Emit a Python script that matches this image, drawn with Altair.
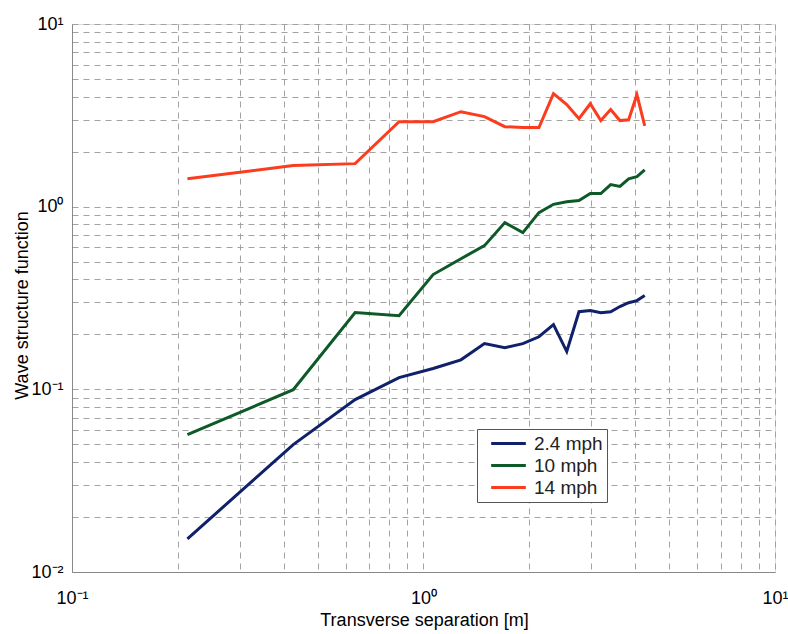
import altair as alt
import pandas as pd

# Transverse separations [m] shared by all three wind speeds
separation = [0.213, 0.426, 0.639, 0.852, 1.065, 1.278, 1.491, 1.704, 1.917, 2.130,
              2.343, 2.556, 2.769, 2.982, 3.195, 3.408, 3.621, 3.834, 4.047, 4.260]

speeds = ["2.4 mph", "10 mph", "14 mph"]

wsf_2_4 = [0.0152, 0.0498, 0.0879, 0.116, 0.130, 0.145, 0.178, 0.169, 0.178, 0.194,
           0.226, 0.161, 0.266, 0.270, 0.263, 0.266, 0.284, 0.298, 0.306, 0.326]
wsf_10 = [0.0565, 0.0995, 0.263, 0.253, 0.425, 0.519, 0.612, 0.818, 0.721, 0.927,
          1.03, 1.065, 1.08, 1.18, 1.18, 1.32, 1.29, 1.42, 1.46, 1.59]
wsf_14 = [1.42, 1.68, 1.72, 2.92, 2.92, 3.31, 3.11, 2.74, 2.71, 2.71,
          4.16, 3.62, 3.03, 3.66, 2.96, 3.40, 2.96, 2.99, 4.10, 2.77]

colors = ["#10206a", "#0d5a28", "#fb3c1e"]

x_ticks = [0.1, 0.2, 0.3, 0.4, 0.5, 0.6, 0.7, 0.8, 0.9,
           1, 2, 3, 4, 5, 6, 7, 8, 9, 10]
y_ticks = [0.01, 0.02, 0.03, 0.04, 0.05, 0.06, 0.07, 0.08, 0.09,
           0.1, 0.2, 0.3, 0.4, 0.5, 0.6, 0.7, 0.8, 0.9,
           1, 2, 3, 4, 5, 6, 7, 8, 9, 10]

rows = []
for name, vals in zip(speeds, [wsf_2_4, wsf_10, wsf_14]):
    for s, v in zip(separation, vals):
        rows.append({"speed": name, "sep": s, "wsf": v})
df = pd.DataFrame(rows)

decade_label = (
    "datum.value == 0.01 ? '10⁻²' : datum.value == 0.1 ? '10⁻¹' : "
    "datum.value == 1 ? '10⁰' : datum.value == 10 ? '10¹' : ''"
)

font = "Liberation Sans"
grid_dash = [6, 5]
grid_color = "#a2a2a2"

chart = alt.Chart(df).mark_line(strokeWidth=3, clip=True).encode(
    x=alt.X(
        "sep:Q",
        scale=alt.Scale(type="log", domain=[0.1, 10], nice=False),
        axis=alt.Axis(
            values=x_ticks, labelExpr=decade_label, title="Transverse separation [m]",
            ticks=False, labelPadding=17, labelFontSize=18, labelFlush=False,
            grid=True, gridDash=grid_dash, gridColor=grid_color, gridWidth=1,
            titleFontSize=18, titleFontWeight="normal", titleX=352, titleY=53,
            titleBaseline="alphabetic", labelOverlap=False,
        ),
    ),
    y=alt.Y(
        "wsf:Q",
        scale=alt.Scale(type="log", domain=[0.01, 10], nice=False),
        axis=alt.Axis(
            values=y_ticks, labelExpr=decade_label, title="Wave structure function",
            ticks=False, labelPadding=9, labelFontSize=18, labelFlush=False,
            grid=True, gridDash=grid_dash, gridColor=grid_color, gridWidth=1,
            titleFontSize=18, titleFontWeight="normal", titleX=-50, titleY=281,
            titleAngle=-90, titleBaseline="middle", titleAlign="center",
            labelOverlap=False,
        ),
    ),
    color=alt.Color(
        "speed:N",
        scale=alt.Scale(domain=speeds, range=colors),
        sort=speeds,
        legend=alt.Legend(
            title=None, orient="none", legendX=405, legendY=405,
            symbolType="M-2,0H2", symbolSize=300, symbolStrokeWidth=3,
            symbolOffset=17, labelOffset=15,
            labelExpr="datum.label + '  '",
            labelFontSize=19, labelFont=font, labelColor="#222",
            strokeColor="#555", fillColor="white", padding=4,
            rowPadding=1,
        ),
    ),
    order=alt.Order("sep:Q"),
).properties(
    width=703,
    height=548,
    autosize=alt.AutoSizeParams(type="none"),
    padding={"left": 72, "top": 24, "right": 13, "bottom": 62},
).configure_view(
    stroke="#888", strokeWidth=1.5
).configure_axis(
    domain=False, labelFont=font, titleFont=font, labelColor="#222", titleColor="#222",
).configure(background="white")

chart.save("out.html", embed_options={"renderer": "svg", "actions": False})
